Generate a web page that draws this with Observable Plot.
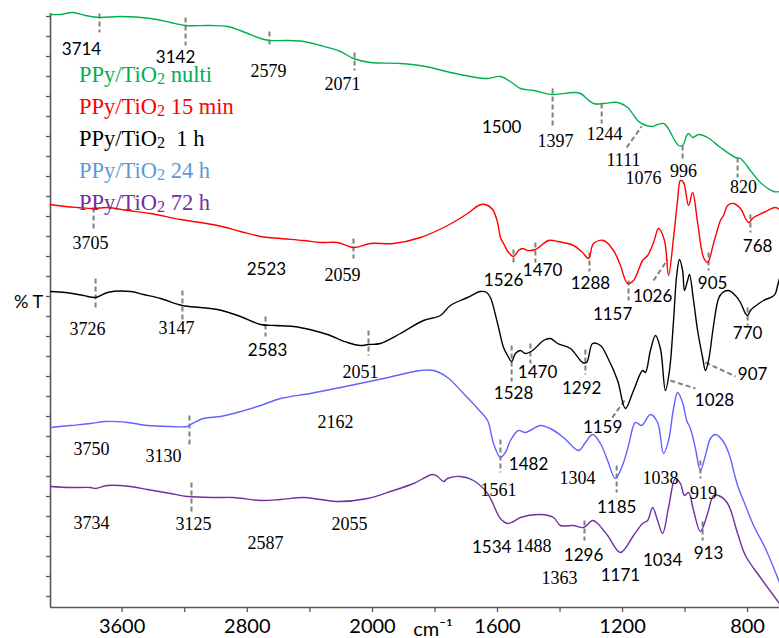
<!DOCTYPE html>
<html><head><meta charset="utf-8">
<script src="https://cdn.jsdelivr.net/npm/d3@7"></script>
<script src="https://cdn.jsdelivr.net/npm/@observablehq/plot@0.6"></script>
<style>
body{margin:0;background:#fff;}
#chart{position:relative;width:779px;height:638px;}
#legend{position:absolute;left:79px;top:66px;font-family:"Liberation Serif",serif;font-size:22.5px;white-space:pre;}
#legend div{line-height:17px;height:17px;margin-bottom:15px;}
#legend sub{font-size:0.72em;vertical-align:-0.12em;line-height:0;}
</style>
</head><body><div id="chart"><div id="legend"></div></div>
<script>
// ---- series ----
const seriesNames = ["PPy/TiO2 nulti", "PPy/TiO2 15 min", "PPy/TiO2  1 h", "PPy/TiO2 24 h", "PPy/TiO2 72 h"];
const curveColors = ["#00b050", "#ff0000", "#000000", "#6262ff", "#7030a0"];
const legendColors = ["#00b050", "#ff0000", "#000000", "#5b9bd5", "#7030a0"];

// wavenumber (cm-1) and %T (offset, arbitrary units)
const nultiWn = [4000,3936,3859,3776,3687,3553,3361,3233,3137,2978,2869,2754,2658,2601,2498,2383,2275,2147,2064,1978,1882,1802,1722,1658,1603,1562,1526,1498,1456,1395,1328,1306,1264,1232,1187,1155,1123,1104,1075,1059,1040,1027,992,979,966,960,947,928,899,858,810,794,762,730,688,669];
const nultiT  = [582,582,584,581,579,580,578,574,571,571,570,564,558,556,556,555,551,545,538,534,533,530,524,520,518,520,514,508,506,502,504,503,493,493,494,489,476,472,470,472,473,469,451,451,461,463,459,462,459,449,439,438,426,414,405,405];

const min15Wn = [4000,3904,3827,3725,3636,3508,3361,3169,2933,2786,2658,2530,2383,2275,2166,2064,1978,1904,1818,1731,1667,1632,1610,1587,1571,1562,1552,1536,1520,1504,1491,1475,1450,1408,1379,1328,1299,1280,1264,1232,1200,1178,1155,1136,1107,1091,1072,1056,1037,1024,1008,995,986,976,960,947,931,912,899,880,858,848,835,816,794,768,752,720,682,669];
const min15T  = [392,390,389,388,389,386,383,377,371,365,360,358,356,354,354,349,353,353,359,371,383,391,392,387,374,359,353,344,340,346,348,346,347,356,355,351,344,338,353,356,346,331,313,316,336,341,354,368,356,321,359,396,416,414,391,404,374,339,334,353,376,381,391,393,388,374,379,384,389,387];

const h1Wn = [4000,3904,3789,3712,3636,3489,3406,3297,3157,3042,2933,2786,2658,2562,2447,2319,2230,2102,2019,1984,1946,1882,1808,1754,1722,1667,1626,1606,1594,1571,1552,1539,1526,1514,1498,1482,1459,1424,1402,1379,1338,1299,1286,1267,1242,1219,1187,1162,1136,1107,1098,1082,1066,1050,1034,1021,1008,998,989,979,973,963,957,944,931,915,906,896,880,864,851,832,810,794,778,771,762,752,720,691,682,675,669];
const h1T  = [305,304,301,299,304,305,302,298,291,289,287,280,272,271,270,266,262,254,251,252,253,263,276,281,291,299,305,304,299,273,249,241,235,243,246,243,246,256,258,253,248,234,234,253,251,239,216,188,206,226,224,246,261,248,206,226,276,321,337,326,306,316,322,296,266,239,226,236,271,298,304,306,301,294,283,281,286,289,296,300,303,311,318];

const h24Wn = [4000,3872,3744,3649,3508,3380,3233,3125,3105,3022,2914,2831,2658,2530,2339,2147,1936,1818,1776,1731,1680,1635,1603,1584,1562,1546,1530,1504,1482,1434,1402,1360,1312,1290,1267,1242,1219,1194,1168,1152,1130,1110,1082,1059,1040,1024,1008,995,979,966,954,938,922,906,890,874,851,832,803,778,752,714,669];
const h24T  = [169,171,173,175,174,171,170,170,172,178,180,183,191,198,203,209,218,226,226,219,203,188,176,153,139,144,156,166,164,171,168,159,146,154,162,153,136,118,134,151,174,171,182,174,143,156,188,204,194,176,168,148,126,141,158,162,156,144,111,91,71,48,14];

const h72Wn = [4000,3872,3744,3712,3636,3489,3380,3233,3125,2933,2831,2658,2530,2383,2275,2166,1987,1904,1840,1779,1763,1744,1731,1690,1648,1603,1562,1539,1520,1498,1434,1392,1370,1328,1296,1267,1251,1219,1178,1136,1107,1091,1075,1059,1043,1024,1002,986,973,960,944,922,899,880,864,835,803,778,730,669];
const h72T  = [110,109,109,108,111,110,107,103,100,99,99,96,97,99,97,95,98,106,113,122,120,115,118,120,116,103,78,73,75,79,82,79,71,71,69,76,73,61,44,61,73,76,89,76,63,89,118,113,101,104,86,65,83,101,101,93,63,41,19,-7];

// ---- peak annotations (label text, position in cm-1 / %T) ----
const sansLabels = [
  ["3714",3802,547],["3142",3201,539],["1500",1558,469],
  ["2523",2620,327],["1526",1552,316],["1470",1427,326],["1288",1274,313],["1157",1203,282],["1026",1075,300],["905",883,313],["768",739,350],
  ["2583",2613,246],["1528",1520,203],["1470",1443,224],["1292",1302,208],["1159",1235,169],["1028",877,196],["907",755,222],["770",771,263],
  ["1482",1472,132],["1185",1190,89],
  ["1534",1590,49],["1296",1296,41],["1171",1178,21],["1034",1043,36],["913",896,43]
];
const serifLabels = [
  ["2579",2607,525],["2071",2134,512],["1397",1386,455],["1244",1229,462],["1111",1168,436],["1076",1104,418],["996",976,425],["820",784,409],
  ["3705",3744,353],["2059",2134,321],
  ["3726",3764,267],["3147",3195,268],["2051",2019,224],
  ["3750",3738,147],["3130",3278,140],["2162",2179,174],["1561",1568,106],["1304",1315,118],["1038",1050,118],["919",912,103],
  ["3734",3738,73],["3125",3086,72],["2587",2626,53],["2055",2089,72],["1488",1456,50],["1363",1373,18]
];
// dashed marker lines [x1, y1, x2, y2]
const peakDashes = [
  [3687,583,3687,564],[3137,579,3137,551],[2601,565,2601,550],[2057,544,2057,526],[1395,508,1395,468],[1238,493,1238,473],[1158,449,1110,470],[979,451,979,436],[803,439,803,419],
  [3725,389,3725,366],[2064,358,2064,338],[1520,347,1520,331],[1450,354,1450,334],[1277,344,1277,325],[1152,316,1152,296],[1072,316,1027,337],[896,344,896,326],[762,382,762,364],
  [3712,318,3712,288],[3157,306,3157,274],[2626,280,2626,260],[1984,266,1984,241],[1526,251,1526,215],[1466,253,1466,233],[1290,247,1290,222],[1165,196,1206,178],[1018,216,938,208],[906,234,810,220],[771,289,771,271],
  [3112,181,3112,152],[1562,157,1562,124],[1190,131,1190,104],[922,136,922,118],
  [3099,114,3099,84],[1293,76,1293,56],[915,75,915,56]
];

const xTicks = [3600,3200,2800,2400,2000,1800,1600,1400,1200,1000,800];
const xTickLabels = [3600,2800,2000,1600,1200,800];
const yTicks = d3.range(0, 600, 20);

// ---- build ----
const seriesData = [[nultiWn,nultiT],[min15Wn,min15T],[h1Wn,h1T],[h24Wn,h24T],[h72Wn,h72T]];
const rows = seriesData.flatMap(([w,t], i) => w.map((x, j) => ({s: seriesNames[i], w: x, t: t[j]})));
const toObj = a => ({text: a[0], x: a[1], y: a[2]});
const dashObjs = peakDashes.map(d => ({x1: d[0], y1: d[1], x2: d[2], y2: d[3]}));

const axisGray = "#595959";
const chart = Plot.plot({
  width: 779, height: 638,
  marginLeft: 50, marginRight: 0, marginTop: 7, marginBottom: 31,
  style: {background: "#fff", overflow: "visible"},
  x: {type: "linear", domain: [4000, 2000, 669], range: [50, 363, 779], label: null},
  y: {domain: [-11, 589], range: [607, 7], label: null},
  color: {domain: seriesNames, range: curveColors},
  marks: [
    Plot.axisY({ticks: yTicks, tickFormat: () => "", tickSize: 4, stroke: axisGray, strokeWidth: 1.3}),
    Plot.axisX({ticks: xTicks, tickFormat: d => xTickLabels.includes(d) ? String(d) : "", tickSize: 5, tickPadding: 6,
      stroke: axisGray, strokeWidth: 1.3, fontSize: 20, fontFamily: "Lato, sans-serif", fill: "#000", dx: 9}),
    Plot.ruleX([4000], {y1: -11, y2: 583, stroke: axisGray, strokeWidth: 1.6}),
    Plot.ruleY([-11], {x1: 4000, x2: 669, stroke: axisGray, strokeWidth: 1.6}),
    Plot.link(dashObjs, {x1: "x1", y1: "y1", x2: "x2", y2: "y2", stroke: "#7f7f7f", strokeWidth: 2, strokeDasharray: "5,3"}),
    Plot.line(rows, {x: "w", y: "t", z: "s", stroke: "s", strokeWidth: 1.4, curve: "catmull-rom", clip: true}),
    Plot.text(sansLabels.map(toObj), {x: "x", y: "y", text: "text", fontSize: 17, fontFamily: "Lato, sans-serif", fill: "#000"}),
    Plot.text(serifLabels.map(toObj), {x: "x", y: "y", text: "text", fontSize: 18, fontFamily: "Liberation Serif, serif", fill: "#000"}),
    Plot.text(["% T"], {frameAnchor: "left", textAnchor: "middle", dx: -22, dy: -5, fontSize: 18, fontFamily: "Lato, sans-serif", fill: "#000"}),
    Plot.text(["cm\u207B\u00B9"], {frameAnchor: "bottom", textAnchor: "middle", lineAnchor: "bottom", dx: 18, dy: 28, fontSize: 20, fontFamily: "Lato, sans-serif", fill: "#000"})
  ]
});
const host = document.getElementById("chart");
host.insertBefore(chart, host.firstChild);
chart.style.position = "absolute"; chart.style.left = "0"; chart.style.top = "0";

const legend = document.getElementById("legend");
seriesNames.forEach((name, i) => {
  const div = document.createElement("div");
  div.style.color = legendColors[i];
  const parts = name.split("TiO2");
  div.append(parts[0] + "TiO");
  const sub = document.createElement("sub"); sub.textContent = "2"; div.append(sub);
  div.append(parts[1].replace(/ /g, "\u00a0"));
  legend.appendChild(div);
});
</script>
</body></html>
